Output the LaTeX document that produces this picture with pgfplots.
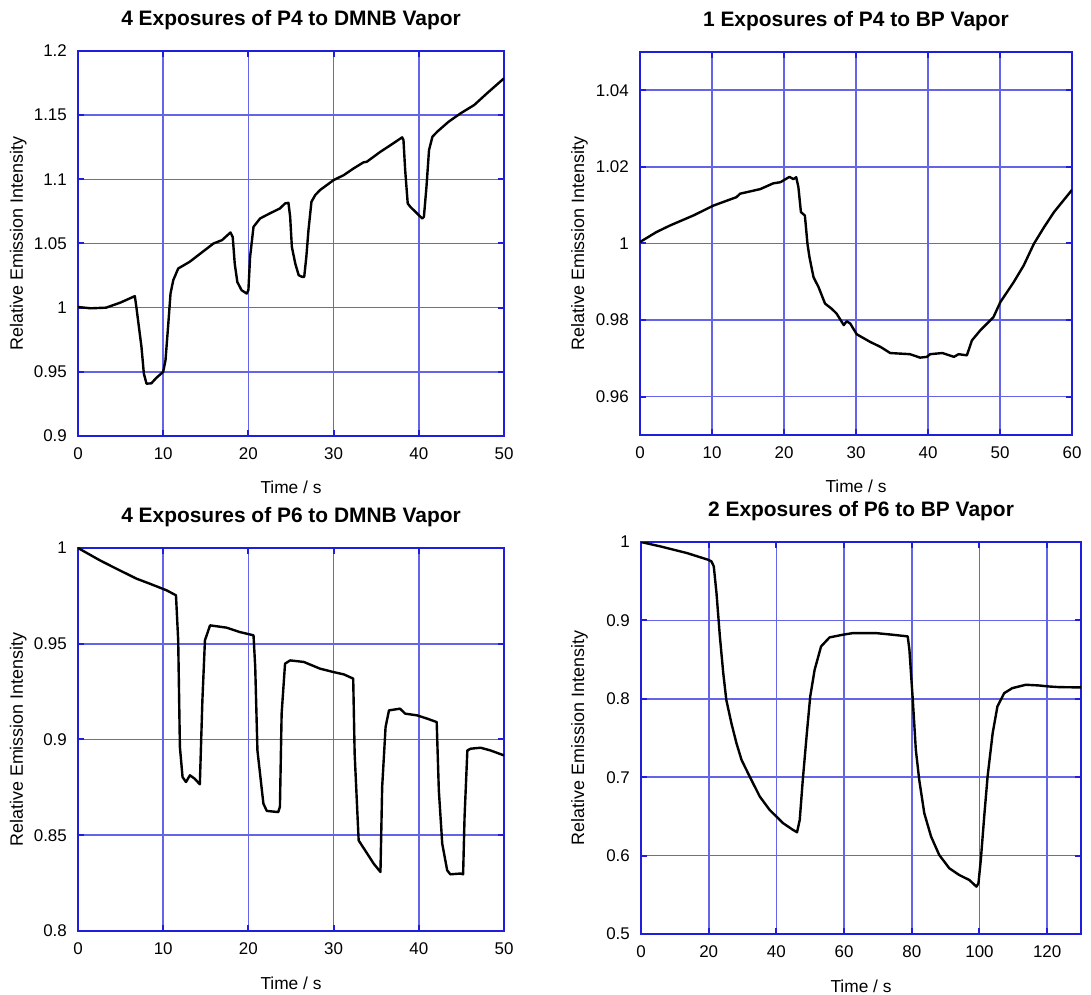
\documentclass[border=0pt]{standalone}
\usepackage{fontspec}
\setmainfont{Liberation Sans}
\usepackage{pgfplots}
\pgfplotsset{compat=1.18}
\definecolor{axisblue}{RGB}{30,30,220}
\definecolor{gridblue}{RGB}{100,100,232}
\pgfplotsset{
  panel/.style={
    scale only axis, anchor=south west,
    axis line style={draw=axisblue, line width=2.4bp},
    grid=major,
    grid style={draw=gridblue, line width=1.6bp},
    major tick length=6bp, tick align=inside,
    every tick/.style={draw=axisblue, line width=2bp},
    /pgf/number format/assume math mode=true,
    tick label style={font=\fontsize{17}{20}\selectfont},
    xticklabel style={anchor=north, inner sep=0pt, yshift=-11bp},
    yticklabel style={anchor=east, inner sep=0pt, xshift=-11bp},
    xlabel={Time / s},
    ylabel={Relative Emission Intensity},
    xlabel style={font=\fontsize{17.4}{20}\selectfont, at={(axis description cs:0.5,0)}, anchor=base, yshift=-58bp},
    ylabel style={font=\fontsize{18}{20}\selectfont, at={(axis description cs:-0.14,0.5)}, anchor=center, rotate=0},
    title style={font=\fontsize{21}{24}\bfseries\selectfont, at={(axis description cs:0.5,1)}, anchor=base, yshift=20bp},
    clip=true,
  },
  curve/.style={black, line width=2.4bp, line join=round, mark=none},
}
\begin{document}
\begin{tikzpicture}
\useasboundingbox (0,0) rectangle (1091bp,995bp);
% Panel 1
\begin{axis}[panel, at={(78bp,559bp)}, width=426bp, height=385bp,
  xmin=0, xmax=50, ymin=0.9, ymax=1.2,
  xtick={0,10,...,50}, ytick={0.9,0.95,1,1.05,1.1,1.15,1.2},
  yticklabels={0.9,0.95,1,1.05,1.1,1.15,1.2},
  title={4 Exposures of P4 to DMNB Vapor}]
\addplot[curve] coordinates {
(0,1.0005)(1.5,0.9995)(3.3,1.0)(5,1.004)(6.67,1.009)(6.86,1.000)(7.45,0.9694)(7.73,0.9486)(8.04,0.9408)(8.6,0.941)(9.2,0.9453)(10.0,0.95)(10.27,0.959)(10.6,0.9876)(10.86,1.011)(11.18,1.0214)(11.76,1.0305)(13.1,1.0357)(15.9,1.05)(16.9,1.0526)(17.9,1.0586)(18.16,1.055)(18.4,1.034)(18.7,1.020)(19.2,1.0136)(19.8,1.011)(20.0,1.0136)(20.2,1.0396)(20.6,1.063)(21.37,1.0695)(22.5,1.0734)(23.7,1.0773)(24.3,1.0812)(24.7,1.0817)(24.9,1.0708)(25.1,1.0474)(25.5,1.0344)(25.9,1.0253)(26.3,1.024)(26.55,1.024)(26.8,1.0396)(27.05,1.0604)(27.4,1.0825)(27.84,1.0877)(28.4,1.0916)(30.0,1.0994)(31.2,1.1033)(32.35,1.1085)(33.5,1.1132)(33.9,1.1137)(35.5,1.1215)(36.7,1.1267)(38.04,1.1327)(38.2,1.1306)(38.4,1.1072)(38.7,1.0812)(39.0,1.0786)(40.4,1.0695)(40.6,1.0708)(40.9,1.0942)(41.2,1.1228)(41.6,1.1332)(42.16,1.1371)(43.5,1.1449)(44.9,1.1514)(46.5,1.1579)(48.0,1.167)(50.0,1.1787)
};
\end{axis}
% Panel 2
\begin{axis}[panel, at={(640bp,560bp)}, width=432bp, height=383bp,
  xmin=0, xmax=60, ymin=0.95, ymax=1.05,
  xtick={0,10,...,60}, ytick={0.96,0.98,1,1.02,1.04},
  yticklabels={0.96,0.98,1,1.02,1.04},
  title={1 Exposures of P4 to BP Vapor}]
\addplot[curve] coordinates {
(0,1.0004)(2.3,1.003)(4.17,1.0047)(7.4,1.0073)(10.2,1.0099)(13.4,1.0121)(13.9,1.013)(16.7,1.0142)(18.5,1.0157)(19.5,1.016)(20.76,1.0174)(21.3,1.0168)(21.7,1.0173)(22.0,1.0147)(22.35,1.0082)(22.9,1.0073)(23.26,0.9999)(23.54,0.9964)(24.1,0.9912)(24.8,0.9886)(25.7,0.9843)(26.6,0.983)(27.3,0.9817)(28.3,0.9787)(28.7,0.9797)(29.2,0.9791)(30.1,0.9763)(31.97,0.9743)(33.4,0.973)(34.75,0.9714)(37.5,0.9711)(38.9,0.9702)(39.85,0.9704)(40.3,0.9711)(42.0,0.9714)(43.6,0.9704)(44.25,0.9711)(45.4,0.9708)(46.1,0.9747)(47.3,0.9774)(49.1,0.9808)(50.05,0.9847)(51.9,0.9899)(53.3,0.9943)(54.7,0.9999)(56.1,1.0042)(57.5,1.0082)(60,1.014)
};
\end{axis}
% Panel 3
\begin{axis}[panel, at={(78bp,64bp)}, width=426bp, height=383bp,
  xmin=0, xmax=50, ymin=0.8, ymax=1,
  xtick={0,10,...,50}, ytick={0.8,0.85,0.9,0.95,1},
  yticklabels={0.8,0.85,0.9,0.95,1},
  title={4 Exposures of P6 to DMNB Vapor}]
\addplot[curve] coordinates {
(0,1.0)(2.55,0.9936)(4.5,0.9892)(6.86,0.984)(8.4,0.9814)(10.4,0.9779)(11.5,0.9753)(11.76,0.9518)(11.96,0.8961)(12.27,0.8804)(12.67,0.8778)(13.14,0.8813)(13.7,0.8795)(14.3,0.8766)(14.6,0.9205)(14.9,0.9518)(15.5,0.9596)(17.45,0.9584)(19.0,0.9561)(20.6,0.9544)(20.8,0.9379)(21.06,0.8943)(21.76,0.8665)(22.16,0.8627)(23.5,0.8621)(23.7,0.8648)(23.9,0.9135)(24.3,0.9396)(24.9,0.9413)(26.5,0.9405)(28.4,0.937)(30.0,0.9352)(31.2,0.934)(32.3,0.9318)(32.47,0.8926)(32.94,0.8473)(33.7,0.8421)(34.7,0.8352)(35.5,0.8308)(35.7,0.8752)(36.1,0.9065)(36.5,0.9152)(37.8,0.9161)(38.4,0.9135)(39.8,0.9126)(40.98,0.9109)(42.1,0.9091)(42.35,0.8735)(42.75,0.8456)(43.33,0.8317)(43.7,0.8296)(44.9,0.83)(45.2,0.8296)(45.37,0.8595)(45.7,0.8943)(46.1,0.8952)(47.25,0.8957)(48.4,0.8943)(50,0.8917)
};
\end{axis}
% Panel 4
\begin{axis}[panel, at={(641bp,61bp)}, width=440bp, height=392bp,
  xmin=0, xmax=130, ymin=0.5, ymax=1,
  xtick={0,20,...,120}, ytick={0.5,0.6,...,1.0},
  yticklabels={0.5,0.6,0.7,0.8,0.9,1},
  title={2 Exposures of P6 to BP Vapor}]
\addplot[curve] coordinates {
(0,1.0)(5.6,0.9945)(13.5,0.986)(19.8,0.9774)(20.8,0.9753)(21.5,0.969)(22.3,0.935)(23.3,0.8796)(24.3,0.8328)(25.2,0.7987)(26.7,0.769)(28.2,0.7434)(29.7,0.7221)(32.1,0.7009)(35.1,0.6753)(38.0,0.6583)(42.0,0.6413)(44.9,0.6328)(46.1,0.6298)(46.9,0.6455)(47.8,0.6966)(49.0,0.7562)(50.0,0.803)(51.3,0.837)(53.2,0.8668)(55.7,0.8783)(59.6,0.8817)(62.6,0.8838)(69.4,0.8838)(74.4,0.8817)(78.8,0.8796)(79.3,0.8626)(80.3,0.7987)(81.2,0.7349)(82.2,0.6966)(83.7,0.654)(85.7,0.6243)(88.1,0.6009)(91.1,0.5838)(94.0,0.5753)(97.0,0.5689)(99.1,0.5604)(99.7,0.5647)(100.4,0.5945)(101.4,0.6498)(102.4,0.7009)(103.9,0.7562)(105.3,0.7902)(107.3,0.8072)(109.7,0.8136)(113.7,0.8179)(117.6,0.817)(120.5,0.8157)(123.5,0.8149)(130,0.8145)
};
\end{axis}
\end{tikzpicture}
\end{document}
